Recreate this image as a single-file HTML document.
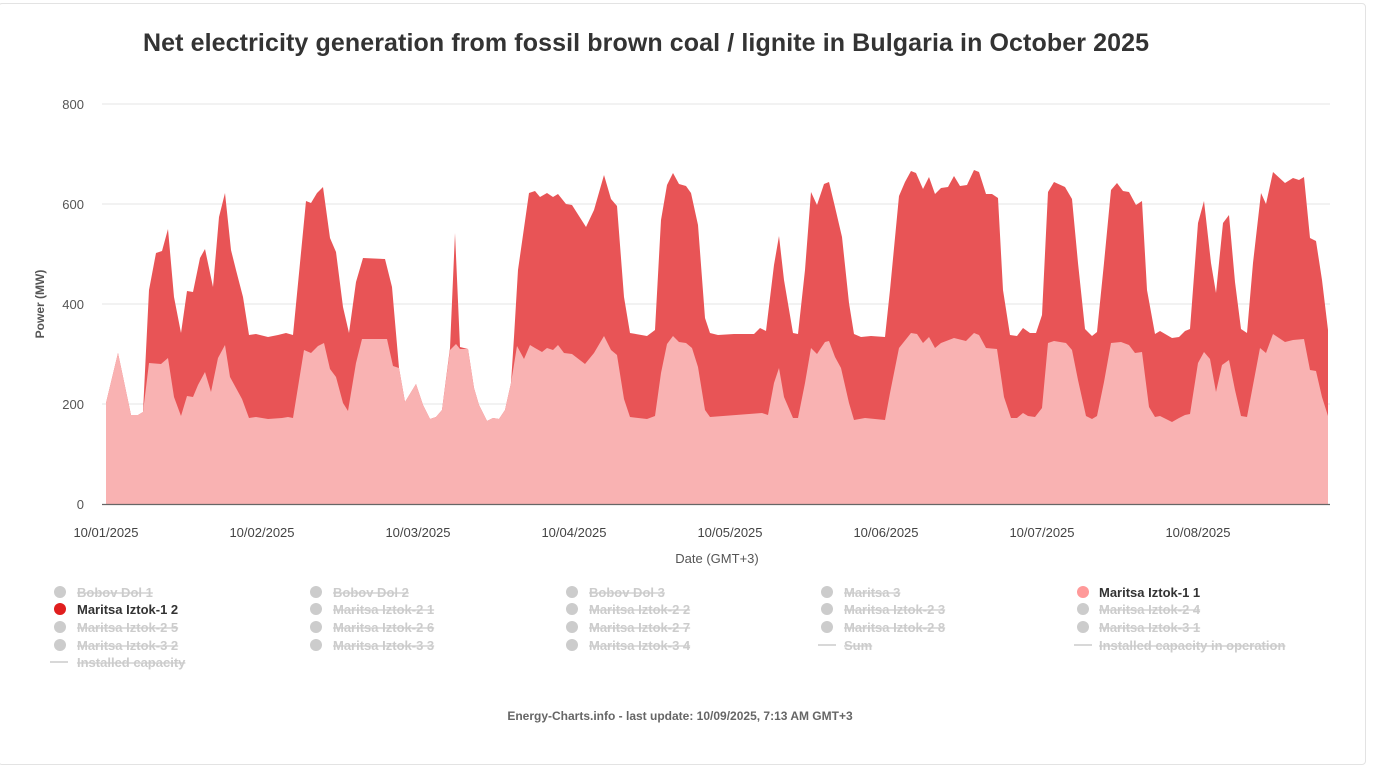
<!DOCTYPE html>
<html><head><meta charset="utf-8"><style>
body{margin:0;background:#fff;width:1380px;height:748px;overflow:hidden;font-family:"Liberation Sans",sans-serif}
.card{position:absolute;left:-2px;top:3px;width:1366px;height:760px;border:1px solid #e3e3e3;border-radius:4px;background:#fff}
svg{position:absolute;left:0;top:0}
.s{text-decoration:line-through}
</style></head><body>
<div class="card"></div>
<svg width="1380" height="748" xmlns="http://www.w3.org/2000/svg" font-family="Liberation Sans, sans-serif">
<text x="646" y="51" text-anchor="middle" font-size="25" font-weight="bold" fill="#333" textLength="1006">Net electricity generation from fossil brown coal / lignite in Bulgaria in October 2025</text>
<g stroke="#e6e6e6" stroke-width="1">
<line x1="102" y1="104" x2="1330" y2="104"/><line x1="102" y1="204" x2="1330" y2="204"/>
<line x1="102" y1="304" x2="1330" y2="304"/><line x1="102" y1="404" x2="1330" y2="404"/>
</g>
<g font-size="13" fill="#555" text-anchor="end">
<text x="84" y="109">800</text><text x="84" y="209">600</text><text x="84" y="309">400</text><text x="84" y="409">200</text><text x="84" y="509">0</text>
</g>
<text transform="translate(44,304) rotate(-90)" text-anchor="middle" font-size="12" font-weight="bold" fill="#555">Power (MW)</text>
<polygon fill="#e85456" points="106,504 106,403 118,353 131,415 138,415 143,412 149,290 156,253 162,251 168,229 174,297 181,333 187,291 193,292 200,258 205,249 213,287 219,217 225,193 231,250 236,270 243,297 249,335 256,334 268,337 278,335 286,333 293,335 300,263 306,201 311,203 317,193 323,187 330,238 336,252 343,307 349,333 356,282 363,258 385,259 392,287 399,368 405,402 416,384 423,405 430,419 436,417 442,410 450,348 455,233 460,347 468,349 474,388 479,405 487,421 493,418 499,419 505,410 511,383 514,337 518,270 529,193 535,191 540,197 547,193 553,197 558,194 566,204 572,205 586,227 594,210 604,175 611,199 617,206 624,297 630,333 647,336 655,330 661,220 667,185 673,173 679,184 686,186 691,193 698,225 705,318 710,333 718,335 734,334 754,334 760,328 766,331 774,265 779,236 784,280 793,333 798,334 805,270 811,192 817,205 824,184 829,182 835,207 842,237 849,303 854,334 861,337 871,336 885,337 890,290 899,196 905,182 911,171 916,173 923,189 929,177 935,194 941,188 948,187 954,176 960,186 967,185 974,170 979,172 986,194 992,194 998,198 1003,290 1010,335 1017,336 1023,328 1030,333 1036,333 1042,315 1048,192 1054,182 1065,187 1072,199 1078,263 1085,329 1092,336 1097,332 1104,263 1111,190 1117,183 1123,191 1129,192 1136,205 1142,201 1147,290 1155,334 1160,331 1172,338 1179,337 1185,331 1190,329 1198,223 1204,201 1211,263 1216,293 1223,223 1229,215 1235,282 1241,329 1247,333 1253,263 1261,193 1266,204 1273,172 1285,183 1293,178 1299,180 1304,177 1310,238 1316,241 1322,280 1328,330 1328,504"/>
<polygon fill="#f9b2b2" points="106,504 106,403 118,353 131,415 138,415 143,412 149,363 161,364 168,358 174,397 181,416 187,396 193,397 198,385 205,372 211,392 218,358 225,345 230,377 242,399 249,418 256,417 268,419 282,418 288,417 293,418 304,350 311,353 318,346 324,343 330,369 336,377 343,403 348,411 356,363 362,339 387,339 393,366 399,368 405,402 416,384 423,405 430,419 436,417 442,410 450,350 456,344 460,349 468,349 474,388 479,405 487,421 493,418 499,419 505,410 511,383 517,346 524,359 530,345 535,348 542,352 547,348 553,350 558,345 564,353 572,354 585,364 594,353 604,336 611,350 617,355 624,399 630,417 647,419 655,416 661,373 667,344 673,336 679,342 686,343 692,348 698,367 705,410 710,417 762,413 768,415 774,383 779,368 784,397 793,418 798,418 805,383 811,348 817,354 825,342 829,341 835,357 841,368 849,403 854,420 865,418 885,420 890,393 899,348 911,333 917,334 923,343 929,337 935,348 941,343 954,338 966,341 974,333 979,335 986,348 997,349 1004,397 1011,418 1017,418 1023,413 1028,416 1035,417 1042,408 1048,343 1054,341 1066,343 1072,350 1078,380 1086,416 1092,419 1097,416 1104,382 1111,343 1121,342 1129,345 1135,353 1142,352 1149,407 1155,417 1160,416 1172,422 1179,418 1185,415 1190,414 1198,363 1204,352 1210,359 1216,392 1222,365 1229,360 1235,390 1241,416 1247,417 1260,348 1266,353 1273,334 1285,342 1293,340 1304,339 1310,370 1316,371 1322,397 1328,416 1328,504"/>
<line x1="102" y1="504.5" x2="1330" y2="504.5" stroke="#666" stroke-width="1.2"/>
<g font-size="13" fill="#444" text-anchor="middle">
<text x="106" y="537">10/01/2025</text><text x="262" y="537">10/02/2025</text><text x="418" y="537">10/03/2025</text><text x="574" y="537">10/04/2025</text>
<text x="730" y="537">10/05/2025</text><text x="886" y="537">10/06/2025</text><text x="1042" y="537">10/07/2025</text><text x="1198" y="537">10/08/2025</text>
</g>
<text x="717" y="563" text-anchor="middle" font-size="13" fill="#555">Date (GMT+3)</text>
<g fill="#ccc">
<circle cx="60" cy="592" r="6"/><circle cx="316" cy="592" r="6"/><circle cx="572" cy="592" r="6"/><circle cx="827" cy="592" r="6"/><circle cx="1083" cy="592" r="6" fill="#f99"/>
<circle cx="60" cy="609" r="6" fill="#e01e1e"/><circle cx="316" cy="609" r="6"/><circle cx="572" cy="609" r="6"/><circle cx="827" cy="609" r="6"/><circle cx="1083" cy="609" r="6"/>
<circle cx="60" cy="627" r="6"/><circle cx="316" cy="627" r="6"/><circle cx="572" cy="627" r="6"/><circle cx="827" cy="627" r="6"/><circle cx="1083" cy="627" r="6"/>
<circle cx="60" cy="645" r="6"/><circle cx="316" cy="645" r="6"/><circle cx="572" cy="645" r="6"/>
</g>
<g stroke="#ccc" stroke-width="1.5"><line x1="818" y1="645" x2="836" y2="645"/><line x1="1074" y1="645" x2="1092" y2="645"/><line x1="50" y1="662" x2="68" y2="662"/></g>
<g font-size="13" font-weight="bold" fill="#ccc">
<text class="s" x="77" y="597">Bobov Dol 1</text><text class="s" x="333" y="597">Bobov Dol 2</text><text class="s" x="589" y="597">Bobov Dol 3</text><text class="s" x="844" y="597">Maritsa 3</text>
<text x="1099" y="597" fill="#333">Maritsa Iztok-1 1</text>
<text x="77" y="614" fill="#333">Maritsa Iztok-1 2</text><text class="s" x="333" y="614">Maritsa Iztok-2 1</text><text class="s" x="589" y="614">Maritsa Iztok-2 2</text><text class="s" x="844" y="614">Maritsa Iztok-2 3</text><text class="s" x="1099" y="614">Maritsa Iztok-2 4</text>
<text class="s" x="77" y="632">Maritsa Iztok-2 5</text><text class="s" x="333" y="632">Maritsa Iztok-2 6</text><text class="s" x="589" y="632">Maritsa Iztok-2 7</text><text class="s" x="844" y="632">Maritsa Iztok-2 8</text><text class="s" x="1099" y="632">Maritsa Iztok-3 1</text>
<text class="s" x="77" y="650">Maritsa Iztok-3 2</text><text class="s" x="333" y="650">Maritsa Iztok-3 3</text><text class="s" x="589" y="650">Maritsa Iztok-3 4</text><text class="s" x="844" y="650">Sum</text><text class="s" x="1099" y="650">Installed capacity in operation</text>
<text class="s" x="77" y="667">Installed capacity</text>
</g>
<text x="680" y="720" text-anchor="middle" font-size="12" font-weight="bold" fill="#666">Energy-Charts.info - last update: 10/09/2025, 7:13 AM GMT+3</text>
</svg>
</body></html>
